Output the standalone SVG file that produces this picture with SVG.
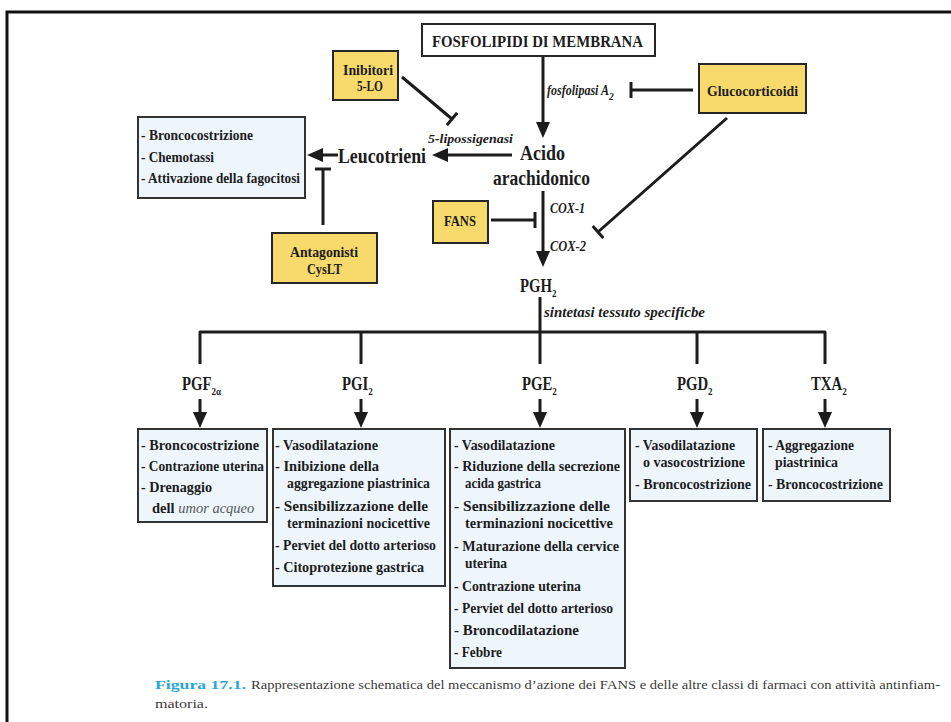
<svg xmlns="http://www.w3.org/2000/svg" width="951" height="722" viewBox="0 0 951 722">
<defs>
<style>
.t{font-family:"Liberation Serif","Times New Roman",serif;font-weight:bold;fill:#1c1c1c}
.bx{font-size:14.5px}
.it{font-style:italic}
.lb{font-size:18px}
.sub{font-size:11px}
.ybox{fill:#F8DA6C;stroke:#262626;stroke-width:2}
.bbox{fill:#EEF6FC;stroke:#333333;stroke-width:2}
.c{stroke:#1c1c1c;stroke-width:3;fill:none}
.cap{font-family:"Liberation Serif","Times New Roman",serif;font-size:13px;fill:#3a3a3a}
</style>
<marker id="arr" viewBox="0 0 16 14" refX="8" refY="7" markerWidth="16" markerHeight="14" orient="auto" markerUnits="userSpaceOnUse"><path d="M0,0 L16,7 L0,14 z" fill="#1c1c1c"/></marker>
<marker id="tee" viewBox="0 0 4 16" refX="2" refY="8" markerWidth="4" markerHeight="16" orient="auto" markerUnits="userSpaceOnUse"><rect x="0.5" y="0" width="3" height="16" fill="#1c1c1c"/></marker>
</defs>
<rect width="951" height="722" fill="#ffffff"/>
<path d="M7,722 V12 H951" fill="none" stroke="#111" stroke-width="3"/>

<g id="connectors">
<path class="c" d="M543,56 V130" marker-end="url(#arr)"/>
<path class="c" d="M693,90 H631" marker-end="url(#tee)"/>
<path class="c" d="M402,77 L452,119" marker-end="url(#tee)"/>
<path class="c" d="M512,155 H440" marker-end="url(#arr)"/>
<path class="c" d="M338,155 H315" marker-end="url(#arr)"/>
<path class="c" d="M323,225 V169" marker-end="url(#tee)"/>
<path class="c" d="M543,191 V259" marker-end="url(#arr)"/>
<path class="c" d="M491,220 H535" marker-end="url(#tee)"/>
<path class="c" d="M727,118 L598,232" marker-end="url(#tee)"/>
<path class="c" d="M200,364 V332 H825 V364" stroke-linejoin="round"/>
<path class="c" d="M361,332 V364 M540,297 V364 M697,332 V364"/>
<path class="c" d="M200,399 V420" marker-end="url(#arr)"/>
<path class="c" d="M361,399 V420" marker-end="url(#arr)"/>
<path class="c" d="M540,399 V420" marker-end="url(#arr)"/>
<path class="c" d="M697,399 V420" marker-end="url(#arr)"/>
<path class="c" d="M825,399 V420" marker-end="url(#arr)"/>
</g>

<g id="fosfolipidi">
<rect x="422" y="24" width="233" height="32" fill="#fff" stroke="#262626" stroke-width="2"/>
<text class="t" x="432" y="47" font-size="17" textLength="211" lengthAdjust="spacingAndGlyphs">FOSFOLIPIDI DI MEMBRANA</text>
</g>

<g id="inibitori5lo">
<rect class="ybox" x="333" y="51" width="65" height="49"/>
<text class="t" x="343" y="75" font-size="14" textLength="50" lengthAdjust="spacingAndGlyphs">Inibitori</text>
<text class="t" x="357" y="91" font-size="14" textLength="26" lengthAdjust="spacingAndGlyphs">5-LO</text>
</g>

<g id="glucocorticoidi">
<rect class="ybox" x="699" y="64" width="107" height="49"/>
<text class="t" x="707" y="96" font-size="14" textLength="91" lengthAdjust="spacingAndGlyphs">Glucocorticoidi</text>
</g>

<g id="labels">
<text class="t it" font-size="14" transform="translate(547,95) scale(0.86,1)">fosfolipasi A<tspan class="sub" dy="5">2</tspan></text>
<text class="t it" x="428" y="143" font-size="13" textLength="85" lengthAdjust="spacingAndGlyphs">5-lipossigenasi</text>
<text class="t it" x="550" y="213" font-size="14" font-weight="normal" textLength="35" lengthAdjust="spacingAndGlyphs">COX-1</text>
<text class="t it" x="550" y="251" font-size="14" font-weight="normal" textLength="36" lengthAdjust="spacingAndGlyphs">COX-2</text>
<text class="t it" x="544" y="317" font-size="14" textLength="161" lengthAdjust="spacingAndGlyphs">sintetasi tessuto specificbe</text>
</g>

<g id="acido">
<text class="t" x="520" y="160" font-size="20" textLength="45" lengthAdjust="spacingAndGlyphs">Acido</text>
<text class="t" x="493" y="185" font-size="20" textLength="97" lengthAdjust="spacingAndGlyphs">arachidonico</text>
</g>

<g id="leucotrieni">
<text class="t" x="338" y="163" font-size="20" textLength="88" lengthAdjust="spacingAndGlyphs">Leucotrieni</text>
</g>

<g id="effetti-leucotrieni">
<rect class="bbox" x="138" y="117" width="167" height="81"/>
<text class="t bx" x="141" y="140" textLength="112" lengthAdjust="spacingAndGlyphs">- Broncocostrizione</text>
<text class="t bx" x="141" y="162" textLength="73" lengthAdjust="spacingAndGlyphs">- Chemotassi</text>
<text class="t bx" x="141" y="183" textLength="159" lengthAdjust="spacingAndGlyphs">- Attivazione della fagocitosi</text>
</g>

<g id="antagonisti">
<rect class="ybox" x="272" y="233" width="105" height="50"/>
<text class="t" x="290" y="257" font-size="14" textLength="68" lengthAdjust="spacingAndGlyphs">Antagonisti</text>
<text class="t" x="307" y="274" font-size="14" textLength="35" lengthAdjust="spacingAndGlyphs">CysLT</text>
</g>

<g id="fans">
<rect class="ybox" x="433" y="201" width="55" height="42"/>
<text class="t" x="444" y="226" font-size="14" textLength="32" lengthAdjust="spacingAndGlyphs">FANS</text>
</g>

<g id="pgh2">
<text class="t lb" transform="translate(520,292) scale(0.82,1)">PGH<tspan class="sub" dy="5">2</tspan></text>
</g>

<g id="pgf2a">
<text class="t lb" transform="translate(182,390) scale(0.82,1)">PGF<tspan class="sub" dy="5">2α</tspan></text>
<rect class="bbox" x="138" y="429" width="129" height="93"/>
<text class="t bx" x="141" y="450" textLength="118" lengthAdjust="spacingAndGlyphs">- Broncocostrizione</text>
<text class="t bx" x="141" y="471" textLength="123" lengthAdjust="spacingAndGlyphs">- Contrazione uterina</text>
<text class="t bx" x="141" y="492" textLength="71" lengthAdjust="spacingAndGlyphs">- Drenaggio</text>
<text class="t bx" x="152" y="513"><tspan>dell </tspan><tspan font-style="italic" font-weight="normal" style="fill:#555">umor acqueo</tspan></text>
</g>

<g id="pgi2">
<text class="t lb" transform="translate(342,390) scale(0.82,1)">PGI<tspan class="sub" dy="5">2</tspan></text>
<rect class="bbox" x="273" y="429" width="172" height="157"/>
<text class="t bx" x="275" y="450" textLength="103" lengthAdjust="spacingAndGlyphs">- Vasodilatazione</text>
<text class="t bx" x="275" y="471" textLength="104" lengthAdjust="spacingAndGlyphs">- Inibizione della</text>
<text class="t bx" x="287" y="488" textLength="143" lengthAdjust="spacingAndGlyphs">aggregazione piastrinica</text>
<text class="t bx" x="275" y="511" textLength="153" lengthAdjust="spacingAndGlyphs">- Sensibilizzazione delle</text>
<text class="t bx" x="287" y="528" textLength="143" lengthAdjust="spacingAndGlyphs">terminazioni nocicettive</text>
<text class="t bx" x="275" y="550" textLength="161" lengthAdjust="spacingAndGlyphs">- Perviet  del dotto arterioso</text>
<text class="t bx" x="275" y="572" textLength="149" lengthAdjust="spacingAndGlyphs">- Citoprotezione gastrica</text>
</g>

<g id="pge2">
<text class="t lb" transform="translate(522,390) scale(0.82,1)">PGE<tspan class="sub" dy="5">2</tspan></text>
<rect class="bbox" x="450" y="429" width="175" height="239"/>
<text class="t bx" x="454" y="450" textLength="101" lengthAdjust="spacingAndGlyphs">- Vasodilatazione</text>
<text class="t bx" x="454" y="471" textLength="166" lengthAdjust="spacingAndGlyphs">- Riduzione della secrezione</text>
<text class="t bx" x="465" y="488" textLength="76" lengthAdjust="spacingAndGlyphs">acida gastrica</text>
<text class="t bx" x="454" y="511" textLength="156" lengthAdjust="spacingAndGlyphs">- Sensibilizzazione delle</text>
<text class="t bx" x="465" y="528" textLength="148" lengthAdjust="spacingAndGlyphs">terminazioni nocicettive</text>
<text class="t bx" x="454" y="551" textLength="165" lengthAdjust="spacingAndGlyphs">- Maturazione della cervice</text>
<text class="t bx" x="465" y="568" textLength="42" lengthAdjust="spacingAndGlyphs">uterina</text>
<text class="t bx" x="454" y="591" textLength="127" lengthAdjust="spacingAndGlyphs">- Contrazione uterina</text>
<text class="t bx" x="454" y="613" textLength="159" lengthAdjust="spacingAndGlyphs">- Perviet  del dotto arterioso</text>
<text class="t bx" x="454" y="635" textLength="125" lengthAdjust="spacingAndGlyphs">- Broncodilatazione</text>
<text class="t bx" x="454" y="657" textLength="48" lengthAdjust="spacingAndGlyphs">- Febbre</text>
</g>

<g id="pgd2">
<text class="t lb" transform="translate(677,390) scale(0.82,1)">PGD<tspan class="sub" dy="5">2</tspan></text>
<rect class="bbox" x="630" y="429" width="127" height="72"/>
<text class="t bx" x="635" y="450" textLength="100" lengthAdjust="spacingAndGlyphs">- Vasodilatazione</text>
<text class="t bx" x="643" y="467" textLength="102" lengthAdjust="spacingAndGlyphs">o vasocostrizione</text>
<text class="t bx" x="635" y="489" textLength="116" lengthAdjust="spacingAndGlyphs">- Broncocostrizione</text>
</g>

<g id="txa2">
<text class="t lb" transform="translate(811,390) scale(0.82,1)">TXA<tspan class="sub" dy="5">2</tspan></text>
<rect class="bbox" x="763" y="429" width="127" height="72"/>
<text class="t bx" x="768" y="450" textLength="86" lengthAdjust="spacingAndGlyphs">- Aggregazione</text>
<text class="t bx" x="775" y="467" textLength="63" lengthAdjust="spacingAndGlyphs">piastrinica</text>
<text class="t bx" x="768" y="489" textLength="115" lengthAdjust="spacingAndGlyphs">- Broncocostrizione</text>
</g>

<g id="caption">
<text class="cap" x="155" y="689" font-size="14" font-weight="bold" style="fill:#2AA5DA" textLength="91" lengthAdjust="spacingAndGlyphs">Figura 17.1.</text>
<text class="cap" x="251" y="689" textLength="689" lengthAdjust="spacingAndGlyphs">Rappresentazione schematica del meccanismo d’azione dei FANS e delle altre classi di farmaci con attività antinfiam-</text>
<text class="cap" x="155" y="708" font-size="14" textLength="53" lengthAdjust="spacingAndGlyphs">matoria.</text>
</g>
</svg>
